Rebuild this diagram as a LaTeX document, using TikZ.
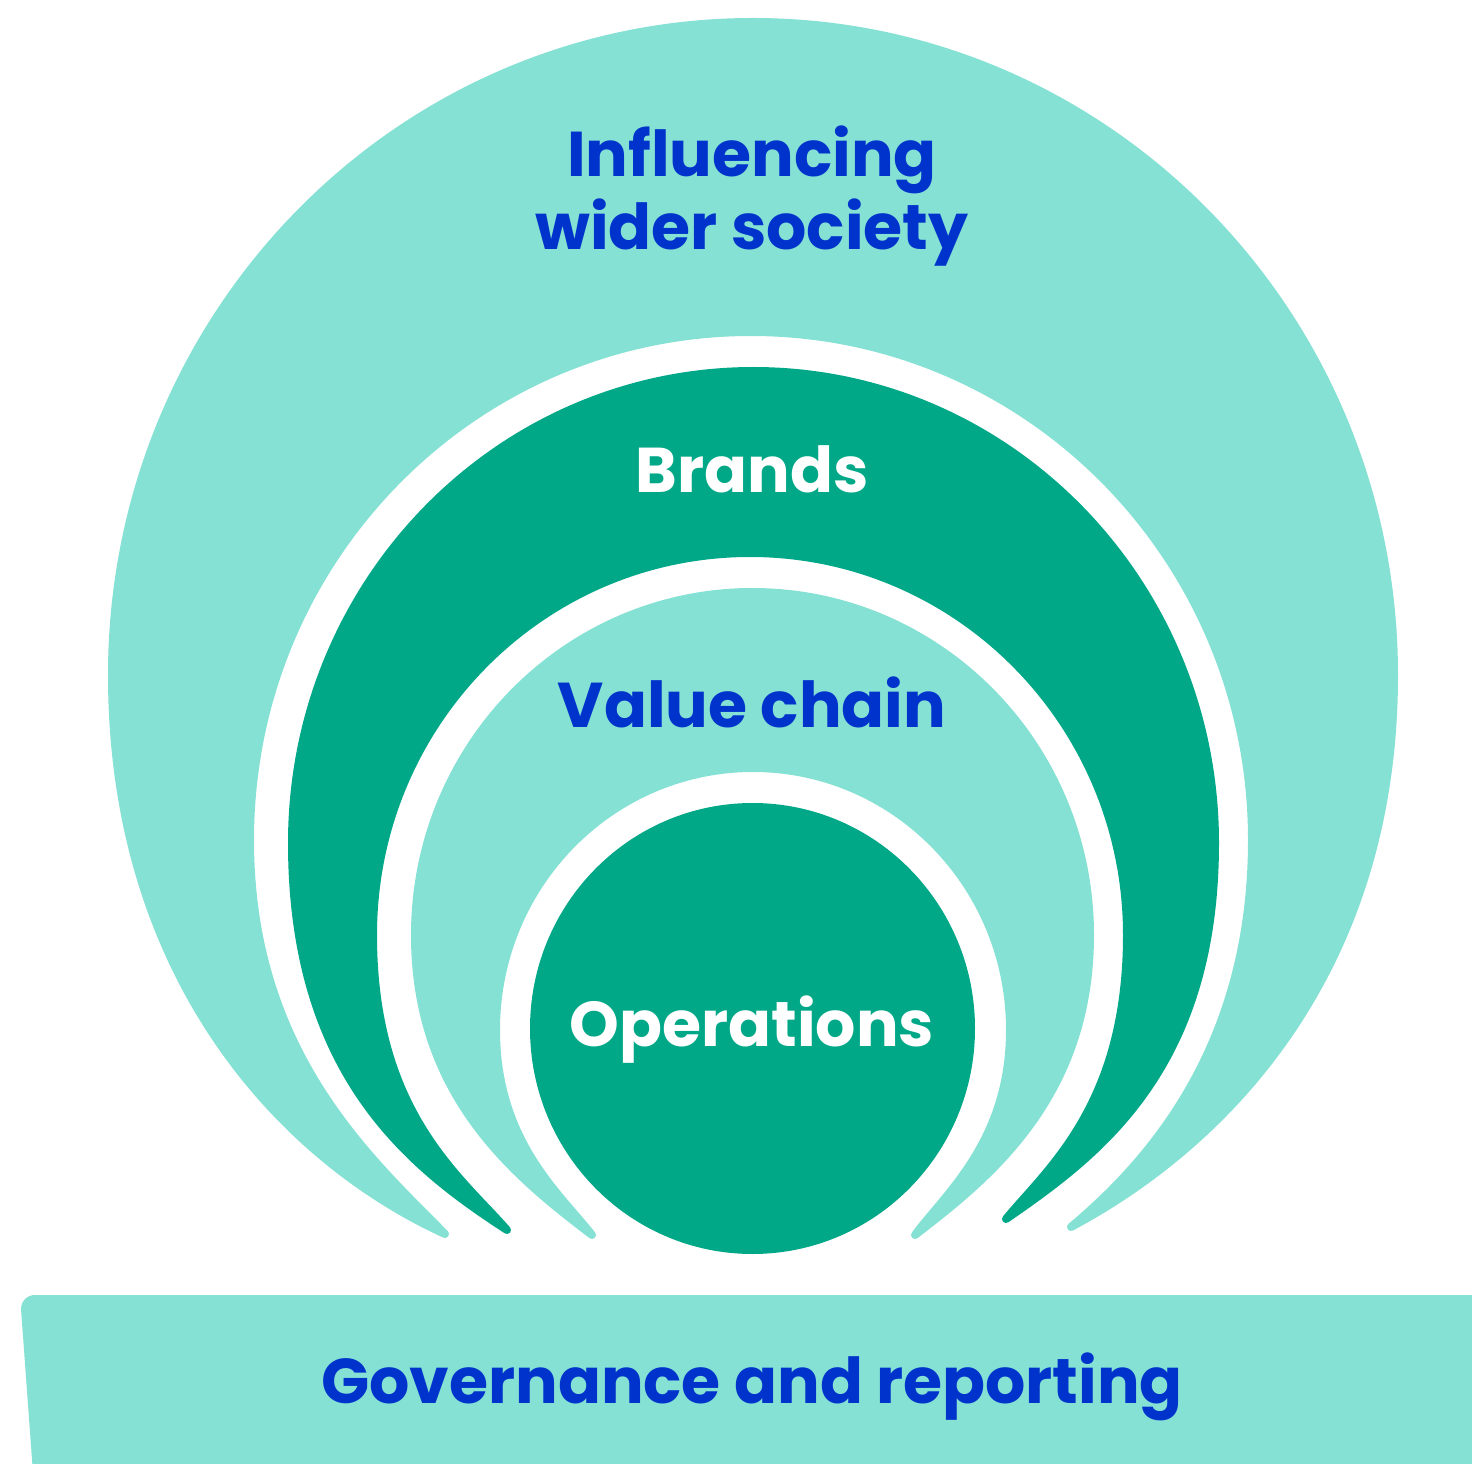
\documentclass[tikz,border=0pt]{standalone}
\usepackage{fontspec}
\setmainfont{Poppins}[Ligatures=NoCommon]
\usepackage{tikz}
\usetikzlibrary{positioning, calc}
\definecolor{lightteal}{HTML}{84E1D4}
\definecolor{darkteal}{HTML}{00A887}
\definecolor{inkblue}{HTML}{0033CC}
\tikzstyle{lightband}=[fill=lightteal,draw=lightteal,line width=0.08cm,line join=round]
\tikzstyle{darkband}=[fill=darkteal,draw=darkteal,line width=0.08cm,line join=round]
\tikzstyle{bluetext}=[text=inkblue,font=\fontsize{18}{20}\selectfont\bfseries,anchor=base,inner sep=0pt]
\tikzstyle{whitetext}=[bluetext,text=white]

\begin{document}
\begin{tikzpicture}[x=0.01cm,y=-0.01cm]
\useasboundingbox (0,0) rectangle (1472,1464);
\clip (0,0) rectangle (1472,1464);
\coordinate (ca) at (753,675);
\coordinate (g1) at (751,840);
\coordinate (cb) at (753.5,843);
\coordinate (g2) at (750,935);
\coordinate (cc) at (752.5,935);
\coordinate (g3) at (753,1030);
\coordinate (co) at (752.5,1028.5);
\coordinate (tipAL) at (445,1234);
\coordinate (tipAR) at (1071,1227);
\coordinate (tipBL) at (507,1230);
\coordinate (tipBR) at (1006,1219);
\coordinate (tipCL) at (592,1235);
\coordinate (tipCR) at (915,1235);

\path[lightband] (tipAL) .. controls (281,1159) and (112,977) .. ([shift={(ca)}]180:641 and 653)
	arc[start angle=180,end angle=360,x radius=641,y radius=653]
	.. controls (1394,973) and (1225,1145) .. (tipAR)
	.. controls (1146,1164) and (1252,1049) .. ([shift={(g1)}]0:501 and 508)
	arc[start angle=360,end angle=180,x radius=501,y radius=508]
	.. controls (250,1053) and (371.5,1159) .. cycle;
\path[darkband] (tipBL) .. controls (410,1167) and (292,1075) .. ([shift={(cb)}]180:461.5 and 472)
	arc[start angle=180,end angle=360,x radius=461.5,y radius=472]
	.. controls (1215,1069) and (1099,1155) .. (tipBR)
	.. controls (1047,1169) and (1127,1105) .. ([shift={(g2)}]0:377 and 382)
	arc[start angle=360,end angle=180,x radius=377,y radius=382]
	.. controls (373,1112) and (460,1176) .. cycle;
\path[lightband] (tipCL) .. controls (516,1177) and (415,1097) .. ([shift={(cc)}]180:337.5 and 343)
	arc[start angle=180,end angle=360,x radius=337.5,y radius=343]
	.. controls (1090,1097) and (990,1177.5) .. (tipCR)
	.. controls (945,1194) and (1010,1141) .. ([shift={(g3)}]0:257 and 262)
	arc[start angle=360,end angle=180,x radius=257,y radius=262]
	.. controls (496,1141) and (560,1194) .. cycle;
\fill[darkteal] (co) ellipse[x radius=222.5,y radius=225.5];
\fill[lightteal] (33.5,1480) [rounded corners=0.15cm] -- (20,1295) -- (1490,1295) [sharp corners] -- (1490,1480) -- cycle;

\node[bluetext] (infl) at (752,177) {Influencing};
\node[bluetext] (wider) at (752,250) {wider society};
\node[whitetext] (brands) at (752,493) {Brands};
\node[bluetext] (valchain) at (752,728) {Value chain};
\node[whitetext] (ops) at (752,1046) {Operations};
\node[bluetext] (gov) at (752,1403) {Governance and reporting};
\end{tikzpicture}
\end{document}
